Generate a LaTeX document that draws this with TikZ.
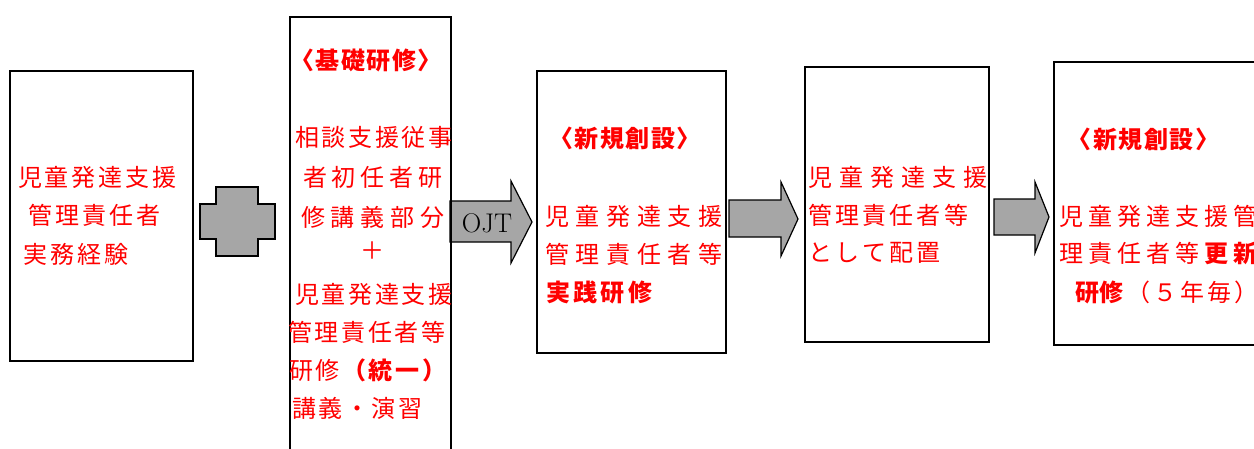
\documentclass[tikz,border=0pt]{standalone}
\usepackage{fontspec}
\newfontfamily\jp{Noto Sans CJK JP}
\makeatletter
\newcommand\sptext[2]{\def\sp@k{#1}\@tfor\sp@c:=#2\do{\sp@c\kern\sp@k pt}\kern-\sp@k pt}
\makeatother
\definecolor{arrowgray}{HTML}{A6A6A6}
\tikzset{
  box/.style={draw=black, line width=1.6pt, fill=none},
  blockarrow/.style={draw=black, line width=1.2pt, fill=arrowgray, line join=miter},
  txt/.style={anchor=west, inner sep=0pt, text=red, font=\jp\fontsize{24}{24}\selectfont},
  ctxt/.style={txt, anchor=center},
}
\begin{document}
\begin{tikzpicture}[x=1pt, y=-1pt]
\useasboundingbox (0,0) rectangle (1254,448);
\clip (0,0) rectangle (1254,448);
\fill[white] (0,0) rectangle (1254,448);
% block arrows
\draw[blockarrow] (200,204) -- (216,204) -- (216,187) -- (258,187) -- (258,204) -- (275,204) -- (275,239) -- (258,239) -- (258,256) -- (216,256) -- (216,239) -- (200,239) -- cycle;
\draw[blockarrow] (450,201) -- (511,201) -- (511,181) -- (532,222) -- (511,263) -- (511,242) -- (450,242) -- cycle;
\draw[blockarrow] (729,200) -- (781,200) -- (781,182) -- (798,219) -- (781,256) -- (781,237) -- (729,237) -- cycle;
\draw[blockarrow] (994,199) -- (1035,199) -- (1035,182) -- (1049,217) -- (1035,253) -- (1035,235) -- (994,235) -- cycle;
\node[inner sep=0pt, font=\fontsize{27}{27}\selectfont] (ojt) at (487,223) {OJT};
% boxes
\draw[box] (10,71) rectangle (193,361);
\draw[box] (290,17) rectangle (451,480);
\draw[box] (537,71) rectangle (726,353);
\draw[box] (805,67) rectangle (989,342);
\draw[box] (1054,62) rectangle (1320,345);
% box 1
\node[txt] (a1) at (18,177) {\sptext{2.8}{児童発達支援}};
\node[txt] (a2) at (28,215) {\sptext{3}{管理責任者}};
\node[txt] (a3) at (23,254) {\sptext{3}{実務経験}};
% box 2
\node[ctxt] (b0) at (366,60) {\bfseries\sptext{1.5}{〈基礎研修〉}};
\node[txt] (b1) at (295,137) {\sptext{2.6}{相談支援従事}};
\node[txt] (b2) at (303,177) {\sptext{4.75}{者初任者研}};
\node[txt] (b3) at (301,217) {\sptext{5.75}{修講義部分}};
\node[ctxt] (b4) at (372,251) {＋};
\node[txt] (b5) at (295,294) {\sptext{2.6}{児童発達支援}};
\node[txt] (b6) at (288,332) {\sptext{2.6}{管理責任者等}};
\node[txt] (b7) at (289,370) {\sptext{2.6}{研修}\kern2.6pt{\bfseries\sptext{2.6}{（統一）}}};
\node[txt] (b8) at (292,408) {\sptext{2.5}{講義・演習}};
% box 3
\node[ctxt] (c0) at (625,138) {\bfseries\sptext{1.5}{〈新規創設〉}};
\node[txt] (c1) at (545,216) {\sptext{6.6}{児童発達支援}};
\node[txt] (c2) at (545,254) {\sptext{6.6}{管理責任者等}};
\node[txt] (c3) at (546,292) {\bfseries\sptext{3.3}{実践研修}};
% box 4
\node[txt] (d1) at (808,177) {\sptext{7}{児童発達支援}};
\node[txt] (d2) at (808,215) {\sptext{3.2}{管理責任者等}};
\node[txt] (d3) at (808,253) {\sptext{3}{として配置}};
% box 5
\node[ctxt] (e0) at (1143.5,139) {\bfseries\sptext{1.5}{〈新規創設〉}};
\node[txt] (e1) at (1059,216) {\sptext{5}{児童発達支援管}};
\node[txt] (e2) at (1059,254) {\sptext{5}{理責任者等}\kern5pt{\bfseries\sptext{5}{更新}}};
\node[txt] (e3) at (1075,292) {{\bfseries\sptext{0}{研修}}\kern3pt\sptext{3}{（５年毎）}};
\end{tikzpicture}
\end{document}
